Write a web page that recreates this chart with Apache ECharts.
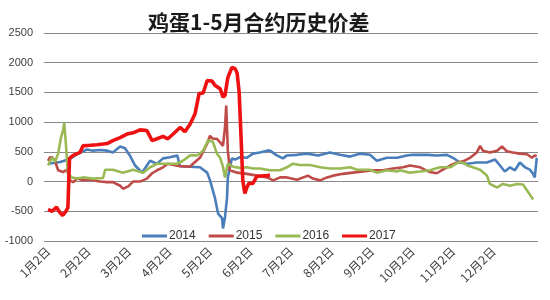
<!DOCTYPE html>
<html>
<head>
<meta charset="utf-8">
<script src="https://cdn.jsdelivr.net/npm/echarts@6/dist/echarts.min.js"></script>
<style>html,body{margin:0;padding:0;background:#fff}#c{width:550px;height:300px}</style>
</head>
<body>
<div id="c"></div>
<script>
// x = months elapsed since 1月2日, y = spread
const titleText = '鸡蛋1-5月合约历史价差';
const monthLabels = ['1月2日','2月2日','3月2日','4月2日','5月2日','6月2日','7月2日','8月2日','9月2日','10月2日','11月2日','12月2日'];
const seriesNames = ['2014','2015','2016','2017'];
const yTicks = [-1000, 2500, 500];

const s2014 = [[0,300],[0.30,330],[0.54,380],[0.74,470],[0.96,540],[1.11,520],[1.28,530],[1.46,520],[1.60,490],[1.78,590],[1.90,560],[2.02,440],[2.15,270],[2.32,150],[2.44,270],[2.52,350],[2.69,300],[2.84,390],[3.01,410],[3.19,440],[3.26,260],[3.51,250],[3.75,240],[3.93,150],[4.00,20],[4.12,-270],[4.20,-540],[4.30,-620],[4.32,-790],[4.37,-600],[4.42,-270],[4.44,70],[4.54,390],[4.62,370],[4.74,410],[4.91,400],[5.06,470],[5.23,490],[5.41,520],[5.48,520],[5.65,440],[5.80,390],[5.90,440],[6.15,450],[6.40,470],[6.67,440],[6.96,490],[7.21,450],[7.46,420],[7.70,470],[7.95,450],[8.12,350],[8.37,400],[8.62,400],[8.86,440],[9.01,450],[9.36,450],[9.60,440],[9.85,450],[10.0,400],[10.17,320],[10.35,300],[10.59,320],[10.84,320],[11.04,370],[11.16,270],[11.28,170],[11.41,240],[11.53,190],[11.65,320],[11.78,240],[11.90,200],[11.98,130],[12.02,70],[12.07,400]];

const s2015 = [[0,350],[0.05,410],[0.10,410],[0.17,350],[0.25,190],[0.37,160],[0.47,200],[0.54,20],[0.62,-10],[0.72,50],[0.86,20],[1.04,30],[1.28,0],[1.46,-10],[1.60,-10],[1.78,-70],[1.85,-120],[1.98,-80],[2.10,0],[2.27,0],[2.44,50],[2.57,140],[2.69,190],[2.84,240],[2.96,300],[3.01,290],[3.26,260],[3.51,250],[3.58,300],[3.75,400],[3.93,640],[4.00,770],[4.07,720],[4.17,720],[4.25,660],[4.32,600],[4.37,910],[4.40,1280],[4.42,1280],[4.44,520],[4.49,190],[4.67,150],[4.91,130],[5.16,100],[5.41,70],[5.56,20],[5.73,70],[5.90,70],[6.15,30],[6.30,70],[6.42,100],[6.54,50],[6.72,20],[6.89,70],[7.04,100],[7.28,130],[7.53,150],[7.78,170],[8.02,190],[8.27,190],[8.52,220],[8.77,240],[8.94,270],[9.19,240],[9.43,160],[9.60,140],[9.75,200],[9.93,270],[10.10,320],[10.25,340],[10.42,400],[10.59,490],[10.67,600],[10.74,520],[10.91,490],[11.09,520],[11.21,590],[11.33,510],[11.48,490],[11.65,470],[11.83,460],[11.95,400],[12.02,440],[12.07,430]];

const s2016 = [[0,270],[0.10,410],[0.17,330],[0.25,470],[0.32,740],[0.37,860],[0.40,990],[0.44,640],[0.49,130],[0.59,70],[0.72,50],[0.86,70],[1.11,50],[1.36,60],[1.41,200],[1.60,200],[1.85,150],[2.10,200],[2.35,150],[2.52,240],[2.69,300],[2.84,300],[3.19,300],[3.33,350],[3.51,440],[3.68,440],[3.83,520],[3.95,690],[4.07,670],[4.17,470],[4.25,400],[4.32,250],[4.37,70],[4.44,300],[4.57,250],[4.74,230],[4.91,240],[5.06,220],[5.23,220],[5.48,190],[5.73,190],[5.90,240],[6.05,300],[6.22,280],[6.47,280],[6.72,240],[6.96,220],[7.21,220],[7.46,240],[7.63,200],[7.95,200],[8.12,150],[8.37,190],[8.62,170],[8.69,190],[8.94,150],[9.19,170],[9.43,190],[9.68,240],[9.93,240],[10.12,320],[10.25,320],[10.35,270],[10.49,240],[10.67,200],[10.84,100],[10.91,-40],[11.09,-100],[11.23,-40],[11.41,-70],[11.58,-40],[11.73,-50],[11.83,-150],[11.95,-270],[11.98,-300]];

const s2017 = [[0,-470],[0.10,-500],[0.21,-430],[0.27,-500],[0.36,-570],[0.44,-500],[0.49,-440],[0.53,390],[0.62,440],[0.79,490],[0.86,600],[1.04,610],[1.21,620],[1.46,640],[1.60,690],[1.78,740],[1.95,800],[2.10,820],[2.27,870],[2.44,860],[2.57,690],[2.69,720],[2.84,760],[2.96,720],[3.09,800],[3.26,910],[3.38,840],[3.51,970],[3.63,1140],[3.73,1480],[3.83,1490],[3.93,1700],[4.05,1690],[4.12,1620],[4.25,1560],[4.32,1420],[4.37,1450],[4.44,1750],[4.54,1920],[4.62,1900],[4.67,1820],[4.72,1500],[4.77,690],[4.81,20],[4.86,-200],[4.91,-100],[4.96,-30],[5.06,-30],[5.16,90],[5.41,100],[5.48,110]];

const colors = ['#4A7EBB','#BE4B48','#98B954','#EE1111'];
const widths = [2.6,2.6,2.6,3.6];
const dataSets = [s2014, s2015, s2016, s2017];

const chart = echarts.init(document.getElementById('c'), null, {renderer:'canvas'});
chart.setOption({
  animation: false,
  backgroundColor: '#fff',
  title: {
    text: titleText, left: 143, top: 7,
    textStyle: {fontFamily: '"Noto Sans CJK SC", sans-serif', fontSize: 21, fontWeight: 'bold', color: '#1a1a1a'}
  },
  legend: {
    data: seriesNames.map((n,i)=>({name:n, icon:'rect', itemStyle:{color:colors[i]}})),
    left: 137, top: 225, itemWidth: 25, itemHeight: 3, itemGap: 13,
    textStyle: {fontFamily: '"Liberation Sans", Arial, sans-serif', fontSize: 12, color: '#333', padding:[0,0,0,-3]}
  },
  grid: {left: 44, right: 12, top: 33, bottom: 59},
  xAxis: {
    type: 'value', min: -0.1, max: 12.1,
    axisLine: {show: false, onZero: false}, axisTick: {show: false}, splitLine: {show: false},
    axisLabel: {
      customValues: monthLabels.map((_, i) => i),
      formatter: v => monthLabels[Math.round(v)] || '',
      rotate: 45, margin: 8, fontSize: 12, color: '#404040',
      fontFamily: '"Noto Sans CJK SC", "Liberation Sans", sans-serif'
    }
  },
  yAxis: {
    type: 'value', min: yTicks[0], max: yTicks[1], interval: yTicks[2],
    axisLine: {show: false}, axisTick: {show: false},
    splitLine: {lineStyle: {color: '#8a8a8a', width: 1}},
    axisLabel: {fontSize: 11, color: '#404040', margin: 11, formatter: v => String(v),
      fontFamily: '"Liberation Sans", Arial, sans-serif'}
  },
  series: seriesNames.map((n, i) => ({
    name: n, type: 'line', data: dataSets[i], showSymbol: false, symbol: 'none',
    lineStyle: {color: colors[i], width: widths[i]}, itemStyle: {color: colors[i]},
    emphasis: {disabled: true}
  }))
});
</script>
</body>
</html>
